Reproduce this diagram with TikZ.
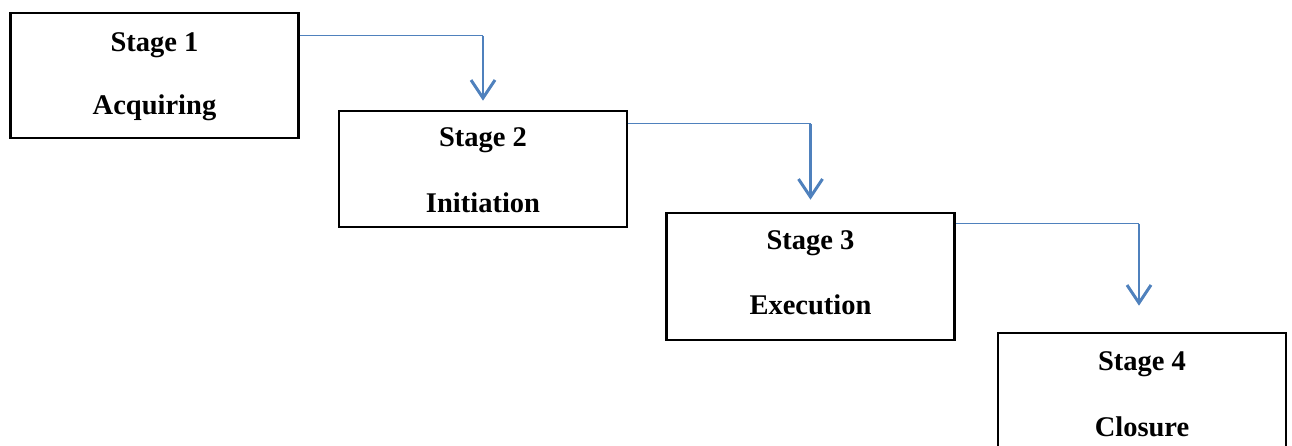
\documentclass[tikz,border=0pt]{standalone}
\usepackage{fontspec}
\setmainfont{Liberation Serif}
\usetikzlibrary{arrows.meta}
\definecolor{linkblue}{RGB}{79,129,189}
\tikzset{
  stagebox/.style={draw=black, line width=2.6pt, minimum width=288pt, inner sep=0pt, fill=white},
  stagetext/.style={anchor=base, inner sep=0pt, font=\fontsize{28.5}{30}\selectfont\bfseries},
  hlink/.style={draw=linkblue, line width=1.3pt},
  vlink/.style={draw=linkblue, line width=2.8pt, -{Straight Barb[length=18pt,width=24pt,line width=3pt]}},
}
\begin{document}
\begin{tikzpicture}[x=1pt,y=-1pt]
\useasboundingbox (0,0) rectangle (1292,445);
\begin{scope}
\clip (0,0) rectangle (1292,445);
\node[stagebox, minimum height=125pt] (b1) at (154.5,75.5) {};
\node[stagebox, minimum height=116pt] (b2) at (483,169) {};
\node[stagebox, minimum height=127pt] (b3) at (810.5,276.5) {};
\node[stagebox, minimum height=140pt] (b4) at (1142,403) {};

\node[stagetext] (t1a) at ([yshift=-40pt]b1.north) {Stage 1};
\node[stagetext] (t1b) at ([yshift=-103pt]b1.north) {Acquiring};
\node[stagetext] (t2a) at ([yshift=-37pt]b2.north) {Stage 2};
\node[stagetext] (t2b) at ([yshift=-103pt]b2.north) {Initiation};
\node[stagetext] (t3a) at ([yshift=-38pt]b3.north) {Stage 3};
\node[stagetext] (t3b) at ([yshift=-103pt]b3.north) {Execution};
\node[stagetext] (t4a) at ([yshift=-39pt]b4.north) {Stage 4};
\node[stagetext] (t4b) at ([yshift=-105pt]b4.north) {Closure};

\coordinate (s1) at ([yshift=-24pt]b1.north east);
\coordinate (c1) at (s1 -| b2.north);
\coordinate (e1) at ([yshift=9pt]b2.north);
\draw[hlink] (s1) -- (c1);
\draw[vlink] (c1) -- (e1);

\coordinate (s2) at ([yshift=-14pt]b2.north east);
\coordinate (c2) at (s2 -| b3.north);
\coordinate (e2) at ([yshift=12pt]b3.north);
\draw[hlink] (s2) -- (c2);
\draw[vlink] (c2) -- (e2);

\coordinate (s3) at ([yshift=-12pt]b3.north east);
\coordinate (c3) at ([xshift=-3pt]s3 -| b4.north);
\coordinate (e3) at ([xshift=-3pt,yshift=26pt]b4.north);
\draw[hlink] (s3) -- (c3);
\draw[vlink] (c3) -- (e3);
\end{scope}
\end{tikzpicture}
\end{document}
